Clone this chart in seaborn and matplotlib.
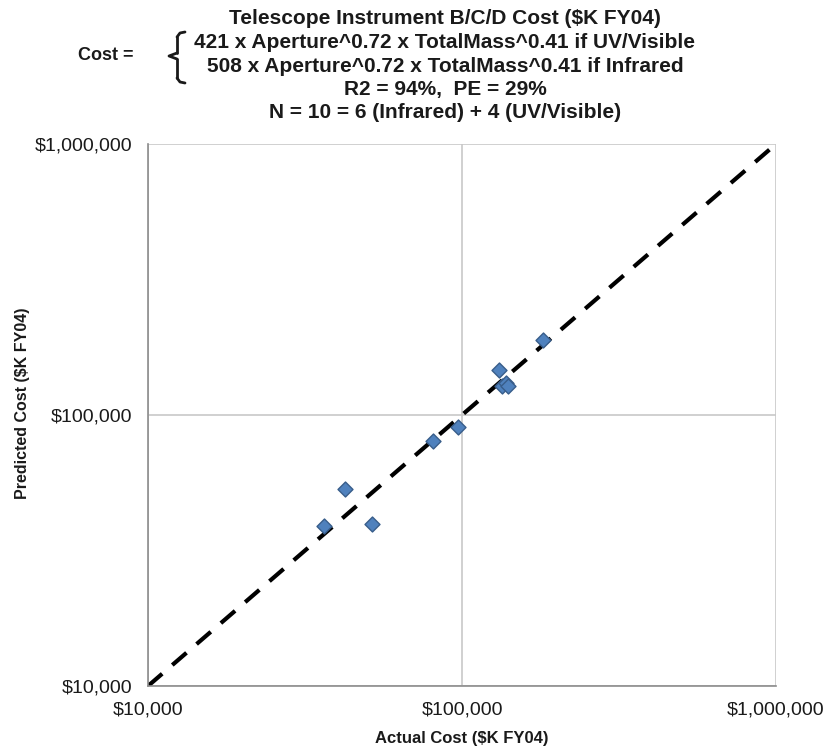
import matplotlib
matplotlib.use("Agg")
import matplotlib.pyplot as plt
from matplotlib.lines import Line2D
from matplotlib.ticker import FixedLocator, NullLocator, FuncFormatter
import seaborn as sns
import pandas as pd

# Actual vs. predicted instrument cost ($K FY04)
actual_cost = [181500, 131500, 133700, 138000, 140400, 97100, 80800, 42300, 51800, 36350]
predicted_cost = [189000, 146600, 128000, 131000, 128000, 90100, 80400, 53300, 39500, 38900]
diag = [10000, 1000000]
tick_values = [10000, 100000, 1000000]

title_lines = [
    "Telescope Instrument B/C/D Cost ($K FY04)",
    "421 x Aperture^0.72 x TotalMass^0.41 if UV/Visible",
    "508 x Aperture^0.72 x TotalMass^0.41 if Infrared",
    "R2 = 94%,  PE = 29%",
    "N = 10 = 6 (Infrared) + 4 (UV/Visible)",
]

sns.set_theme(style="white")
plt.rcParams["font.family"] = ["Liberation Sans", "DejaVu Sans"]

df = pd.DataFrame({"actual": actual_cost, "predicted": predicted_cost})
line_df = pd.DataFrame({"x": diag, "y": diag})

W, H = 828, 749
fig = plt.figure(figsize=(W / 100, H / 100), dpi=100)
ax = fig.add_axes([148 / W, 1 - 686 / H, (776 - 148) / W, (686 - 144) / H])

sns.lineplot(data=line_df, x="x", y="y", ax=ax, color="black", lw=3,
             dashes=False, zorder=2)
ax.lines[-1].set_dashes([4.5, 3.2])
sns.scatterplot(data=df, x="actual", y="predicted", ax=ax, marker="D", s=58,
                color="#4f81bd", edgecolor="#385d8a", linewidth=1.0, zorder=3)

ax.set_xscale("log")
ax.set_yscale("log")
ax.set_xlim(diag[0], diag[1])
ax.set_ylim(diag[0], diag[1])

fmt = FuncFormatter(lambda v, p: "${:,.0f}".format(v))
for axis in (ax.xaxis, ax.yaxis):
    axis.set_major_locator(FixedLocator(tick_values))
    axis.set_minor_locator(NullLocator())
    axis.set_major_formatter(fmt)

ax.grid(True, which="major", color="#c8c8c8", lw=1.2)
ax.set_axisbelow(True)
for side in ("top", "right"):
    ax.spines[side].set_visible(False)
for side in ("left", "bottom"):
    ax.spines[side].set_color("#8c8c8c")
    ax.spines[side].set_linewidth(1.2)

ax.tick_params(axis="both", which="major", direction="out", length=4, width=1,
               color="#8c8c8c", labelsize=14, labelcolor="#1a1a1a")
ax.tick_params(axis="x", pad=7)
ax.tick_params(axis="y", pad=7)

ax.set_xlabel("Actual Cost ($K FY04)", fontsize=12, fontweight="bold",
              color="#1a1a1a")
ax.set_ylabel("Predicted Cost ($K FY04)", fontsize=11.5, fontweight="bold",
              color="#1a1a1a")
ax.xaxis.set_label_coords(0.5, -0.083)
ax.yaxis.set_label_coords(-0.188, 0.522)

# Header: title, CER equation and statistics
ys = [18, 43, 66, 89, 112]
for text, y in zip(title_lines, ys):
    fig.text(445 / W, 1 - y / H, text, ha="center", va="center",
             fontsize=15, fontweight="bold", color="#1a1a1a")
fig.text(106 / W, 1 - 55 / H, "Cost =", ha="center", va="center",
         fontsize=13, fontweight="bold", color="#1a1a1a")

# Bracket joining the two equation branches
bx, top, bot, mid = 177, 32, 83, 56
segs = [
    ([bx + 8, bx + 3, bx], [top, top + 1, top + 5]),
    ([bx, bx], [top + 5, mid - 3]),
    ([bx, bx - 8, bx], [mid - 3, mid, mid + 3]),
    ([bx, bx], [mid + 3, bot - 5]),
    ([bx, bx + 3, bx + 8], [bot - 5, bot - 1, bot]),
]
for xs_, ys_ in segs:
    fig.add_artist(Line2D([v / W for v in xs_], [1 - v / H for v in ys_],
                          color="#1a1a1a", lw=2.0, transform=fig.transFigure))

fig.savefig("out.png", dpi=100, facecolor="white")
